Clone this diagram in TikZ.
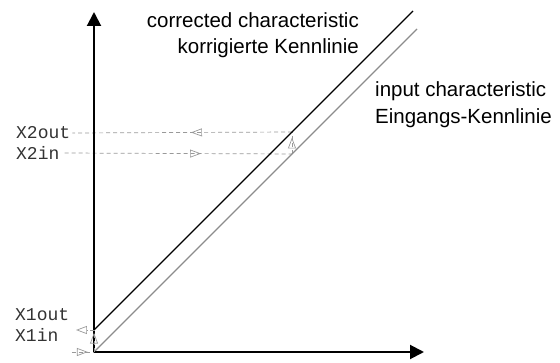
\documentclass[tikz,border=0pt]{standalone}
\usepackage{fontspec}
\setmainfont{Liberation Sans}
\setmonofont{Liberation Mono}
\usetikzlibrary{arrows.meta,decorations.markings,positioning}

\tikzset{
  axis/.style={line width=2pt, {Triangle[length=14pt,width=14pt]}-{Triangle[length=14pt,width=14pt]}},
  corrected/.style={line width=1.4pt, black},
  inputline/.style={line width=1.1pt, black!45},
  helper/.style={black!40, line width=0.7pt, dash pattern=on 4pt off 3pt},
  opentip/.style={-{Triangle[open,length=11pt,width=8pt]}},
  midarrow/.style={postaction={decorate}, decoration={markings,
    mark=at position #1 with {\pgfsetdash{}{0pt}\arrow{Triangle[open,length=11pt,width=8pt]}}}},
  caption/.style={font=\fontsize{20.5}{26}\selectfont, inner sep=0pt},
  xlabel/.style={font=\ttfamily\fontsize{18}{20}\selectfont, text=black!80, inner sep=0pt, anchor=west},
}

\begin{document}
\begin{tikzpicture}[x=1pt, y=1pt]
  \useasboundingbox (-94,-10) rectangle (466,352);

  % working points
  \coordinate (O) at (0,0);
  \coordinate (x1start) at (-22,0);
  \coordinate (x1out) at (0,22);
  \coordinate (x1end) at (-18,22);
  \coordinate (x2in) at (198,198);
  \coordinate (x2out) at (198,220);

  % value labels
  \node[xlabel] (lblX2out) at (-78,219) {X2out};
  \node[xlabel] (lblX2in) at (-78,199) {X2in};
  \node[xlabel] (lblX1out) at (-79,37.5) {X1out};
  \node[xlabel] (lblX1in) at (-79,17) {X1in};

  % helper lines for X2
  \draw[helper, midarrow=0.6] ([xshift=5pt]lblX2in.east) -- (x2in);
  \draw[helper, midarrow=0.75] (x2in) -- (x2out);
  \draw[helper, midarrow=0.46] (x2out) -- ([xshift=2pt]lblX2out.east);

  % characteristics
  \draw[inputline] (O) -- (323,323);
  \draw[corrected] (x1out) -- (319,341);

  % axes
  \draw[axis] (0,340) -- (O) -- (330,0);

  % helper lines for X1
  \draw[helper, midarrow=0.72] (x1start) -- (O);
  \draw[helper, midarrow=0.88] (O) -- (x1out);
  \draw[helper, opentip] (x1out) -- (x1end);

  % captions
  \node[caption, anchor=base east] (corrEn) at (265,324.7) {corrected characteristic};
  \node[caption, anchor=base east] (corrDe) at (265,298.7) {korrigierte Kennlinie};
  \node[caption, anchor=base west] (inEn) at (281,255) {input characteristic};
  \node[caption, anchor=base west] (inDe) at (281,228) {Eingangs-Kennlinie};
\end{tikzpicture}
\end{document}
